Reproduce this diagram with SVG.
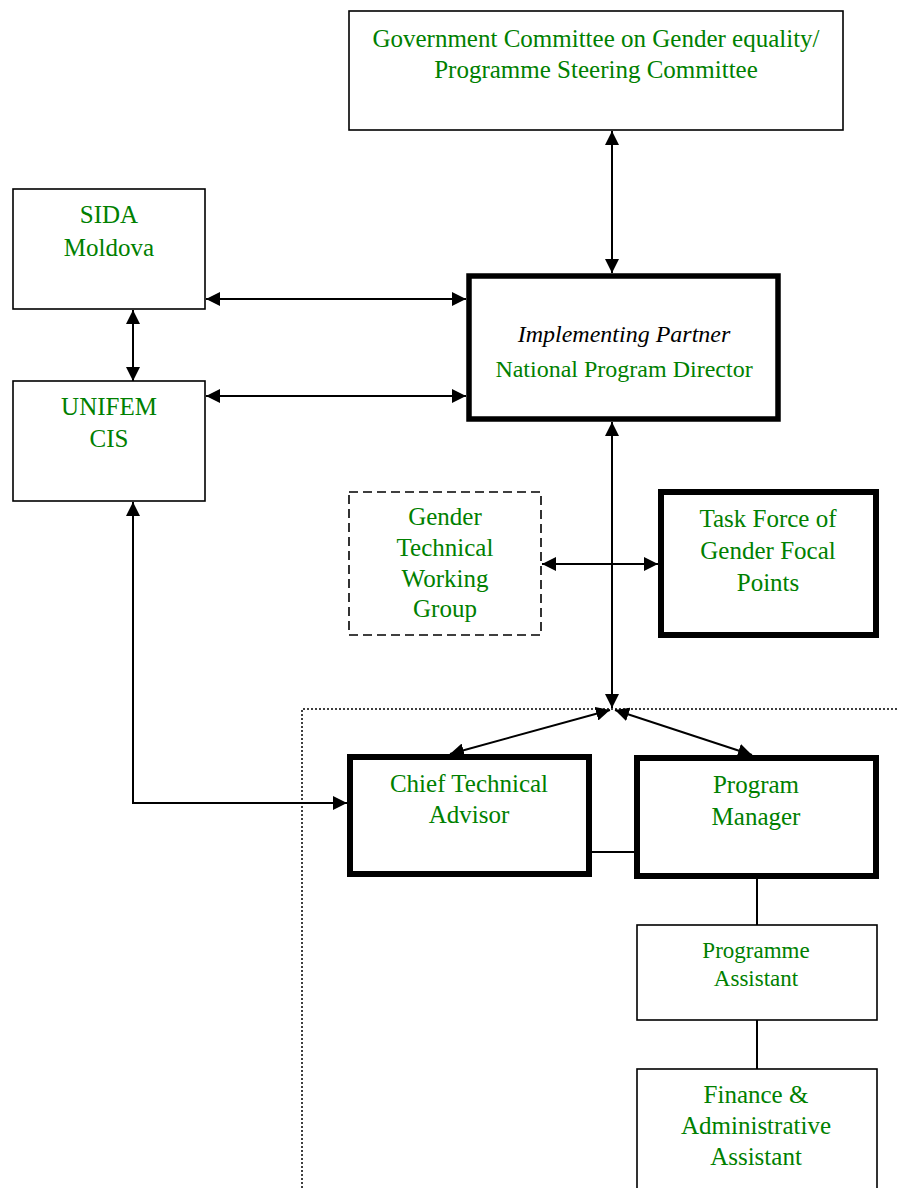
<svg xmlns="http://www.w3.org/2000/svg" width="897" height="1188" viewBox="0 0 897 1188">
  <defs>
    <marker id="ah" viewBox="0 0 14 14" refX="14" refY="7" markerWidth="14" markerHeight="14" markerUnits="userSpaceOnUse" orient="auto-start-reverse">
      <path d="M0,0 L14,7 L0,14 z" fill="#000"/>
    </marker>
    <style>
      .thin { fill: #fff; stroke: #000; stroke-width: 1.6; }
      .thick { fill: #fff; stroke: #000; stroke-width: 6; }
      .dash { fill: #fff; stroke: #000; stroke-width: 1.6; stroke-dasharray: 9 5; }
      .dot { fill: none; stroke: #000; stroke-width: 1.5; stroke-dasharray: 2 2; }
      .t { font-family: "Liberation Serif", "Times New Roman", "DejaVu Serif", serif; font-size: 25px; fill: #008000; text-anchor: middle; }
      .s { font-size: 23px; }
      .it { font-style: italic; fill: #000; font-size: 24px; }
      .c { fill: none; stroke: #000; stroke-width: 2; }
      .a { marker-start: url(#ah); marker-end: url(#ah); }
    </style>
  </defs>
  <rect width="897" height="1188" fill="#fff"/>

  <!-- dotted project area -->
  <path class="dot" d="M302,1188 V709 H897"/>

  <g id="connectors">
    <line class="c a" x1="612" y1="131" x2="612" y2="273"/>
    <line class="c a" x1="206" y1="299" x2="466" y2="299"/>
    <line class="c a" x1="206" y1="396" x2="466" y2="396"/>
    <line class="c a" x1="133" y1="310" x2="133" y2="381"/>
    <path class="c a" d="M133,502 V803 H347"/>
    <line class="c a" x1="612" y1="422" x2="612" y2="708"/>
    <line class="c a" x1="542" y1="564" x2="658" y2="564"/>
    <line class="c a" x1="610" y1="710" x2="450" y2="754"/>
    <line class="c a" x1="615" y1="710" x2="752" y2="755"/>
    <line class="c" x1="592" y1="852" x2="634" y2="852"/>
    <line class="c" x1="757" y1="879" x2="757" y2="925"/>
    <line class="c" x1="757" y1="1020" x2="757" y2="1069"/>
  </g>

  <g id="steering">
    <rect class="thin" x="349" y="11" width="494" height="119"/>
    <text class="t" x="596" y="47">Government Committee on Gender equality/</text>
    <text class="t" x="596" y="78">Programme Steering Committee</text>
  </g>

  <g id="sida">
    <rect class="thin" x="13" y="189" width="192" height="120"/>
    <text class="t" x="109" y="223">SIDA</text>
    <text class="t" x="109" y="256">Moldova</text>
  </g>

  <g id="unifem">
    <rect class="thin" x="13" y="381" width="192" height="120"/>
    <text class="t" x="109" y="415">UNIFEM</text>
    <text class="t" x="109" y="447">CIS</text>
  </g>

  <g id="implementing">
    <rect x="469" y="276" width="309" height="143" fill="#fff" stroke="#000" stroke-width="5.5"/>
    <text class="t it" x="624" y="342">Implementing Partner</text>
    <text class="t" x="624" y="377" style="font-size:24px">National Program Director</text>
  </g>

  <g id="gtwg">
    <rect class="dash" x="349" y="492" width="192" height="143"/>
    <text class="t" x="445" y="525">Gender</text>
    <text class="t" x="445" y="556">Technical</text>
    <text class="t" x="445" y="587">Working</text>
    <text class="t" x="445" y="617">Group</text>
  </g>

  <g id="taskforce">
    <rect class="thick" x="661" y="492" width="215" height="143"/>
    <text class="t" x="768" y="527">Task Force of</text>
    <text class="t" x="768" y="559">Gender Focal</text>
    <text class="t" x="768" y="591">Points</text>
  </g>

  <g id="cta">
    <rect class="thick" x="350" y="757" width="239" height="117"/>
    <text class="t" x="469" y="792">Chief Technical</text>
    <text class="t" x="469" y="823">Advisor</text>
  </g>

  <g id="pm">
    <rect class="thick" x="637" y="758" width="239" height="118"/>
    <text class="t" x="756" y="793">Program</text>
    <text class="t" x="756" y="825">Manager</text>
  </g>

  <g id="pa">
    <rect class="thin" x="637" y="925" width="240" height="95"/>
    <text class="t s" x="756" y="958">Programme</text>
    <text class="t s" x="756" y="986">Assistant</text>
  </g>

  <g id="finance">
    <rect class="thin" x="637" y="1069" width="240" height="130"/>
    <text class="t" x="756" y="1103">Finance &amp;</text>
    <text class="t" x="756" y="1134">Administrative</text>
    <text class="t" x="756" y="1165">Assistant</text>
  </g>
</svg>
